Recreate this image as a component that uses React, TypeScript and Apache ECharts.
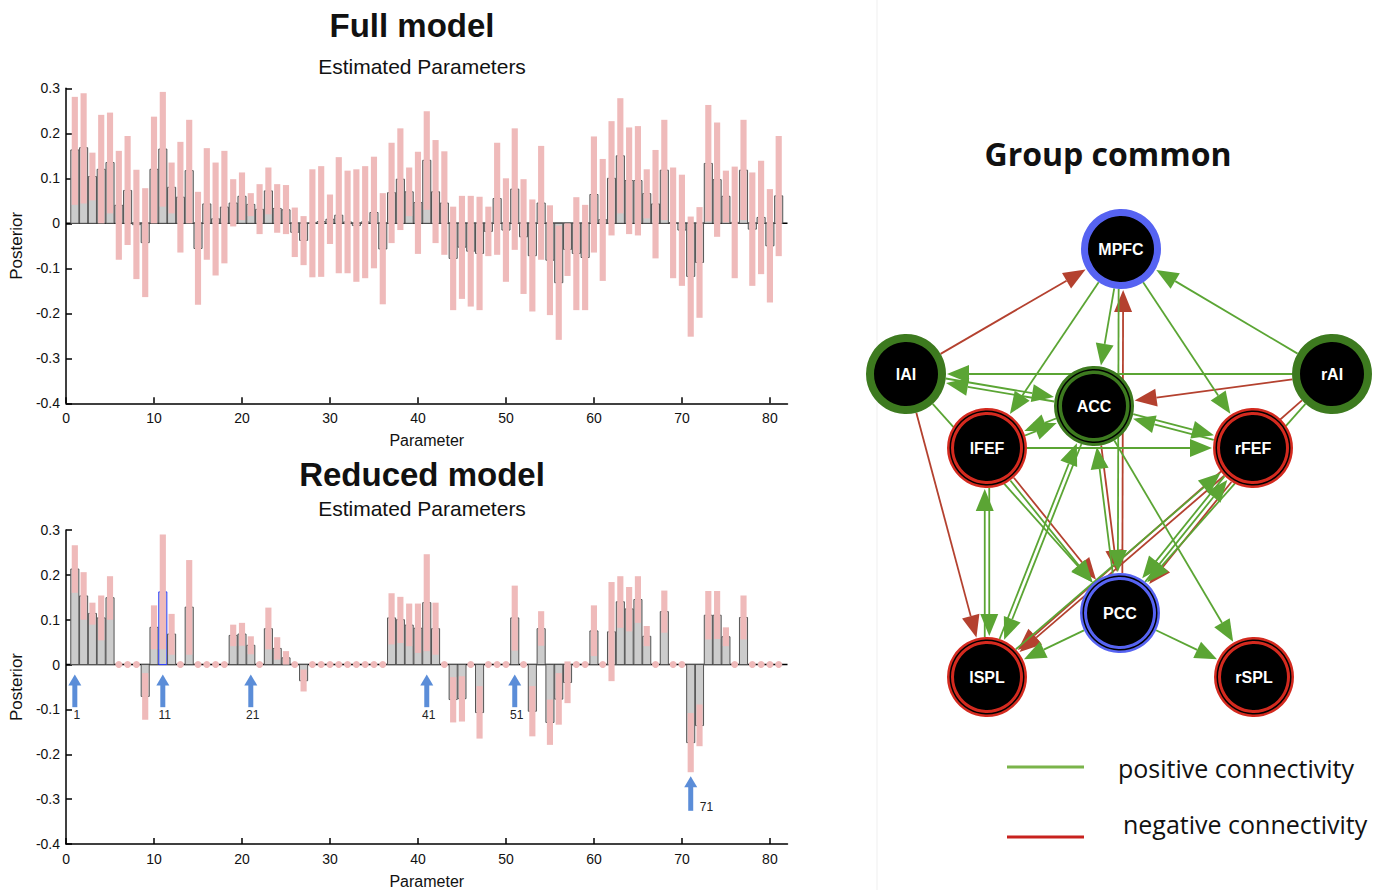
import React, { useEffect, useRef } from 'react';
import * as echarts from 'echarts';

// ---------------- DATA ----------------
const paramIndex: number[] = Array.from({ length: 81 }, (_, k) => k + 1);
const xTickValues = [0, 10, 20, 30, 40, 50, 60, 70, 80];

const fullMean = [0.163,0.168,0.104,0.12,0.135,0.04,0.073,-0.003,-0.043,0.12,
  0.165,0.08,0.058,0.117,-0.056,0.043,0.01,0.036,0.045,0.06,
  0.042,0.031,0.072,0.033,0.03,-0.02,-0.038,0.0,0.004,0.009,
  0.018,0.003,-0.005,0.003,0.024,-0.057,0.068,0.098,0.07,0.046,
  0.14,0.07,0.045,-0.078,-0.053,-0.062,-0.067,-0.018,0.055,-0.015,
  0.076,-0.03,-0.072,0.045,-0.082,-0.132,-0.058,-0.067,-0.076,0.064,
  0.008,0.1,0.15,0.095,0.095,0.066,0.043,0.118,0.001,-0.015,
  -0.118,-0.087,0.133,0.097,0.06,0.002,0.118,-0.013,0.013,-0.05,
  0.061];
const fullLower = [0.041,0.044,0.051,0.0,0.022,-0.081,-0.048,-0.124,-0.164,0.0,
  0.037,0.022,-0.065,0.0,-0.181,-0.081,-0.116,-0.089,-0.007,0.007,
  0.016,-0.024,0.02,-0.021,-0.024,-0.075,-0.093,-0.12,-0.119,-0.046,
  -0.111,-0.111,-0.13,-0.122,-0.1,-0.18,-0.044,-0.015,0.016,-0.068,
  0.03,-0.044,-0.07,-0.193,-0.168,-0.185,-0.193,-0.073,-0.07,-0.13,
  -0.059,-0.157,-0.196,-0.081,-0.204,-0.259,-0.117,-0.193,-0.193,-0.065,
  -0.128,-0.027,0.022,-0.024,-0.027,0.011,-0.078,0.007,-0.122,-0.139,
  -0.252,-0.21,0.004,-0.03,0.002,-0.122,0.007,-0.139,-0.113,-0.176,
  -0.073];
const fullUpper = [0.281,0.289,0.157,0.241,0.246,0.161,0.194,0.119,0.078,0.237,
  0.292,0.135,0.181,0.23,0.07,0.167,0.135,0.161,0.098,0.113,
  0.067,0.087,0.124,0.087,0.085,0.035,0.016,0.12,0.127,0.064,
  0.147,0.117,0.12,0.127,0.148,0.067,0.179,0.211,0.124,0.159,
  0.249,0.185,0.16,0.037,0.061,0.061,0.059,0.037,0.179,0.1,
  0.211,0.098,0.053,0.172,0.04,-0.005,0.0,0.058,0.041,0.193,
  0.143,0.227,0.278,0.213,0.216,0.12,0.163,0.23,0.124,0.108,
  0.015,0.036,0.263,0.224,0.117,0.126,0.23,0.113,0.139,0.076,
  0.194];

const reducedMean = [0.213,0.153,0.114,0.104,0.149,0,0,0,-0.071,0.083,
  0.162,0.068,0,0.128,0,0,0,0,0.065,0.068,
  0.043,0,0.08,0.036,0.015,0,-0.036,0,0,0,
  0,0,0,0,0,0,0.104,0.1,0.088,0.081,
  0.138,0.08,0,-0.078,-0.076,0,-0.107,0,0,0,
  0.104,0,-0.104,0.08,-0.129,-0.077,-0.04,0,0,0.075,
  0,0.073,0.14,0.124,0.145,0.063,0,0.118,0,0,
  -0.174,-0.136,0.11,0.11,0.062,0,0.105,0,0,0,
  0];
const reducedLower = [0.16,0.1,0.089,0.054,0.1,0,0,0,-0.123,0.034,
  0.034,0.022,0,0.022,0,0,0,0,0.041,0.042,
  0.023,0,0.034,0.011,0,0,-0.06,0,0,0,
  0,0,0,0,0,0,0.045,0.048,0.041,0.026,
  0.03,0.022,0,-0.129,-0.127,0,-0.165,0,0,0,
  0.031,0,-0.16,0.042,-0.179,-0.134,-0.086,0,0,0.019,
  0,-0.037,0.082,0.074,0.093,0.041,0,0.071,0,0,
  -0.24,-0.182,0.056,0.057,0.041,0,0.056,0,0,0,
  0];
const reducedUpper = [0.266,0.206,0.138,0.154,0.197,0,0,0,-0.019,0.132,
  0.29,0.113,0,0.233,0,0,0,0,0.089,0.093,
  0.063,0,0.127,0.061,0.03,0,-0.011,0,0,0,
  0,0,0,0,0,0,0.159,0.151,0.136,0.136,
  0.246,0.138,0,-0.028,-0.026,0,-0.048,0,0,0,
  0.176,0,-0.048,0.119,-0.078,-0.019,0.007,0,0,0.132,
  0,0.184,0.197,0.173,0.197,0.086,0,0.165,0,0,
  -0.108,-0.089,0.164,0.164,0.083,0,0.154,0,0,0,
  0];
const reducedPruned = [6,7,8,13,15,16,17,18,22,26,28,29,30,31,32,33,34,35,36,
  43,46,48,49,50,52,58,59,61,67,69,70,76,78,79,80,81];
const highlightParam = 11;

const arrowParams = [1, 11, 21, 41, 51, 71];
const arrowLabels = ['1', '11', '21', '41', '51', '71'];

const nodeNames = ['MPFC', 'lAI', 'rAI', 'ACC', 'lFEF', 'rFEF', 'PCC', 'lSPL', 'rSPL'];
// connections: [from, to, sign]  (+1 positive, -1 negative)
const connections: [string, string, number][] = [
  ['lAI', 'MPFC', -1],
  ['lAI', 'lSPL', -1],
  ['PCC', 'MPFC', -1],
  ['ACC', 'PCC', -1],
  ['rAI', 'ACC', -1],
  ['rAI', 'lSPL', -1],
  ['rFEF', 'PCC', -1],
  ['lFEF', 'PCC', -1],
  ['rFEF', 'lSPL', -1],
  ['MPFC', 'ACC', 1],
  ['MPFC', 'PCC', 1],
  ['rAI', 'MPFC', 1],
  ['MPFC', 'rFEF', 1],
  ['MPFC', 'lFEF', 1],
  ['rAI', 'lAI', 1],
  ['lAI', 'ACC', 1],
  ['ACC', 'lAI', 1],
  ['lAI', 'PCC', 1],
  ['lFEF', 'lSPL', 1],
  ['lSPL', 'lFEF', 1],
  ['ACC', 'lSPL', 1],
  ['lSPL', 'ACC', 1],
  ['PCC', 'lSPL', 1],
  ['PCC', 'rFEF', 1],
  ['rFEF', 'PCC', 1],
  ['lSPL', 'rFEF', 1],
  ['ACC', 'rFEF', 1],
  ['rFEF', 'ACC', 1],
  ['lFEF', 'rFEF', 1],
  ['lFEF', 'ACC', 1],
  ['ACC', 'lFEF', 1],
  ['ACC', 'rSPL', 1],
  ['PCC', 'rSPL', 1],
  ['PCC', 'ACC', 1],
  ['lFEF', 'PCC', 1],
  ['rAI', 'PCC', 1],
];

// ---------------- LAYOUT / STYLE ----------------
const nodeLayout: [number, number][] = [
  [1121, 249], [906, 374], [1332, 374], [1094, 406], [987, 448],
  [1253, 448], [1120, 613], [987, 677], [1254, 677],
];
const nodeRadius = [40, 40, 40, 40, 40, 40, 40, 40, 40];
const BLUE = '#5663f2';
const GREEN_RING = '#3d7a1f';
const RED_RING = '#d42a1f';
const nodeRing = [BLUE, GREEN_RING, GREEN_RING, GREEN_RING, RED_RING, RED_RING, BLUE, RED_RING, RED_RING];
const nodeRingWidth = [7, 8, 8, 8, 7, 7, 7, 7, 7];
const nodeDouble = [false, false, false, true, true, true, true, true, true];

const EDGE_GREEN = '#5ba534';
const EDGE_RED = '#b4412f';
const PINK = '#efbaba';
const GRAY = '#cccccc';
const DARK = '#555555';
const ARROW_BLUE = '#5b8dd8';
const AXIS_FONT = 'Liberation Sans, Arial, sans-serif';

const arrowTip = [-0.022, -0.022, -0.022, -0.022, -0.022, -0.249];
const arrowTail = [-0.095, -0.095, -0.095, -0.095, -0.095, -0.326];

// ---------------- BUILD ----------------
const prunedSet = new Set(reducedPruned);
const fullBarData = paramIndex.map((p, k) => [p, fullMean[k], fullLower[k], fullUpper[k]]);
const reducedBarData = paramIndex
  .map((p, k) => [p, reducedMean[k], reducedLower[k], reducedUpper[k]])
  .filter((d) => !prunedSet.has(d[0]));
const prunedDots = reducedPruned.map((p) => [p, 0]);
const arrowData = arrowParams.map((p, k) => [p, arrowTip[k], arrowTail[k], k]);

const nodeIdx: Record<string, number> = {};
nodeNames.forEach((n, k) => (nodeIdx[n] = k));
const pairCount: Record<string, number> = {};
const edgeData = connections.map(([f, t, s]) => {
  const a = nodeIdx[f], b = nodeIdx[t];
  const key = Math.min(a, b) + '-' + Math.max(a, b);
  const k = pairCount[key] || 0;
  pairCount[key] = k + 1;
  return [a, b, s, k, key];
});
const edgeSeriesData = edgeData.map((e) => {
  const n = pairCount[e[4] as string];
  return [e[0], e[1], e[2], (e[3] as number) - (n - 1) / 2];
});

function barRenderer(highlight: number | null) {
  return (params: any, api: any) => {
    const i = api.value(0), m = api.value(1), lo = api.value(2), hi = api.value(3);
    const unit = api.size([1, 0])[0];
    const p0 = api.coord([i, 0]);
    const pm = api.coord([i, m]);
    const pl = api.coord([i, lo]);
    const ph = api.coord([i, hi]);
    const gw = unit * 0.92;
    const pw = unit * 0.7;
    return {
      type: 'group',
      children: [
        {
          type: 'rect',
          shape: { x: p0[0] - gw / 2, y: Math.min(p0[1], pm[1]), width: gw, height: Math.abs(pm[1] - p0[1]) },
          style: { fill: GRAY, stroke: i === highlight ? '#2b3dff' : DARK, lineWidth: 1 },
        },
        {
          type: 'rect',
          shape: { x: p0[0] - pw / 2, y: ph[1], width: pw, height: Math.max(0, pl[1] - ph[1]) },
          style: { fill: PINK },
        },
      ],
    };
  };
}

function arrowRenderer(params: any, api: any) {
  const x = api.value(0), tip = api.value(1), tail = api.value(2), k = api.value(3);
  const pt = api.coord([x, tip]);
  const pb = api.coord([x, tail]);
  const head = 11;
  const isLast = k === arrowParams.length - 1;
  return {
    type: 'group',
    children: [
      { type: 'rect', shape: { x: pt[0] - 2.5, y: pt[1] + head - 1, width: 5, height: pb[1] - pt[1] - head + 1 }, style: { fill: ARROW_BLUE } },
      { type: 'polygon', shape: { points: [[pt[0], pt[1]], [pt[0] - 6.5, pt[1] + head], [pt[0] + 6.5, pt[1] + head]] }, style: { fill: ARROW_BLUE } },
      {
        type: 'text',
        x: isLast ? pt[0] + 9 : pt[0] + 2,
        y: isLast ? pb[1] - 4 : pb[1] + 8,
        style: {
          text: arrowLabels[k], fill: '#222', fontSize: 12, fontFamily: AXIS_FONT,
          align: isLast ? 'left' : 'center', verticalAlign: 'middle',
          textAlign: isLast ? 'left' : 'center', textVerticalAlign: 'middle',
        },
      },
    ],
  };
}

function edgeRenderer(params: any, api: any) {
  const f = api.value(0), t = api.value(1), s = api.value(2), lane = api.value(3);
  const pa = api.coord(nodeLayout[f]);
  const pb = api.coord(nodeLayout[t]);
  const lo = Math.min(f, t), hi = Math.max(f, t);
  const pl = api.coord(nodeLayout[lo]);
  const ph = api.coord(nodeLayout[hi]);
  const cdx = ph[0] - pl[0], cdy = ph[1] - pl[1];
  const cl = Math.hypot(cdx, cdy);
  const nx = -cdy / cl, ny = cdx / cl;
  const ox = nx * lane * 4.5, oy = ny * lane * 4.5;
  const dx = pb[0] - pa[0], dy = pb[1] - pa[1];
  const L = Math.hypot(dx, dy);
  const ux = dx / L, uy = dy / L;
  const sx = pa[0] + ux * nodeRadius[f] + ox, sy = pa[1] + uy * nodeRadius[f] + oy;
  const tx = pb[0] - ux * (nodeRadius[t] + 1) + ox, ty = pb[1] - uy * (nodeRadius[t] + 1) + oy;
  const AL = 22, AW = 9;
  const bx = tx - ux * AL, by = ty - uy * AL;
  const color = s > 0 ? EDGE_GREEN : EDGE_RED;
  return {
    type: 'group',
    children: [
      { type: 'line', shape: { x1: sx, y1: sy, x2: bx, y2: by }, style: { stroke: color, lineWidth: 1.8 } },
      {
        type: 'polygon',
        shape: { points: [[tx, ty], [bx - uy * AW, by + ux * AW], [bx + uy * AW, by - ux * AW]] },
        style: { fill: color },
      },
    ],
  };
}

function valueAxisX(gridIndex: number) {
  return {
    type: 'value', gridIndex, min: 0, max: 82,
    axisLine: { show: true, onZero: false, lineStyle: { color: '#000', width: 1.5 } },
    axisTick: { show: true, inside: true, length: 6, customValues: xTickValues, lineStyle: { color: '#000', width: 1.5 } },
    axisLabel: { customValues: xTickValues, color: '#111', fontSize: 14, fontFamily: AXIS_FONT, margin: 8 },
    splitLine: { show: false },
    name: 'Parameter', nameLocation: 'middle', nameGap: 29,
    nameTextStyle: { fontSize: 16, color: '#111', fontFamily: AXIS_FONT },
  };
}
function valueAxisY(gridIndex: number) {
  return {
    type: 'value', gridIndex, min: -0.4, max: 0.3, interval: 0.1,
    axisLine: { show: true, onZero: false, lineStyle: { color: '#000', width: 1.5 } },
    axisTick: { show: true, inside: true, length: 6, lineStyle: { color: '#000', width: 1.5 } },
    axisLabel: { color: '#111', fontSize: 14, fontFamily: AXIS_FONT, margin: 6 },
    splitLine: { show: false },
    name: 'Posterior', nameLocation: 'middle', nameGap: 36, nameRotate: 90,
    nameTextStyle: { fontSize: 17, color: '#111', fontFamily: AXIS_FONT },
  };
}

function txt(text: string, x: number, y: number, size: number, weight: string, family: string, align = 'center') {
  return {
    type: 'text', x, y, silent: true,
    style: {
      text, fill: '#111', fontSize: size, fontWeight: weight, fontFamily: family,
      align, verticalAlign: 'middle', textAlign: align, textVerticalAlign: 'middle',
    },
  };
}

const nodeData = nodeNames.map((n, k) => ({
  name: n,
  value: nodeLayout[k],
  symbolSize: 2 * nodeRadius[k] - nodeRingWidth[k],
  itemStyle: { color: '#000', borderColor: nodeRing[k], borderWidth: nodeRingWidth[k] },
}));
const innerRingData = nodeNames
  .map((n, k) => ({
    name: n,
    value: nodeLayout[k],
    symbolSize: 2 * nodeRadius[k] - nodeRingWidth[k] + 0.5,
    itemStyle: { color: 'rgba(0,0,0,0)', borderColor: '#000', borderWidth: 1.5 },
  }))
  .filter((_, k) => nodeDouble[k]);

const option: any = {
  animation: false,
  backgroundColor: '#fff',
  grid: [
    { left: 63.5, top: 88.3, width: 724, height: 315 },
    { left: 63.5, top: 530, width: 724, height: 314 },
    { left: 0, top: 0, width: 1388, height: 890 },
  ],
  xAxis: [
    valueAxisX(0),
    valueAxisX(1),
    { type: 'value', gridIndex: 2, min: 0, max: 1388, show: false },
  ],
  yAxis: [
    valueAxisY(0),
    valueAxisY(1),
    { type: 'value', gridIndex: 2, min: 0, max: 890, inverse: true, show: false },
  ],
  graphic: [
    { type: 'line', shape: { x1: 877, y1: 0, x2: 877, y2: 890 }, style: { stroke: '#efefef', lineWidth: 1 }, silent: true },
    txt('Full model', 412, 25, 33, 'bold', AXIS_FONT),
    txt('Estimated Parameters', 422, 66, 21, 'normal', AXIS_FONT),
    txt('Reduced model', 422, 474, 33, 'bold', AXIS_FONT),
    txt('Estimated Parameters', 422, 508, 21, 'normal', AXIS_FONT),
    txt('Group common', 1108, 153, 32, 'bold', 'Open Sans, sans-serif'),
    { type: 'line', shape: { x1: 1007, y1: 767, x2: 1084, y2: 767 }, style: { stroke: '#7ab44a', lineWidth: 3 }, silent: true },
    { type: 'line', shape: { x1: 1007, y1: 837, x2: 1084, y2: 837 }, style: { stroke: '#c8221e', lineWidth: 3 }, silent: true },
    txt('positive connectivity', 1118, 768, 25, 'normal', 'Open Sans, sans-serif', 'left'),
    txt('negative connectivity', 1123, 824, 25, 'normal', 'Open Sans, sans-serif', 'left'),
  ],
  series: [
    {
      type: 'line', xAxisIndex: 0, yAxisIndex: 0, data: [[0, 0], [82, 0]], symbol: 'none', silent: true, z: 1,
      lineStyle: { color: '#000', width: 1.5 },
    },
    {
      type: 'line', xAxisIndex: 1, yAxisIndex: 1, data: [[0, 0], [82, 0]], symbol: 'none', silent: true, z: 1,
      lineStyle: { color: '#000', width: 1.5 },
    },
    {
      type: 'custom', xAxisIndex: 0, yAxisIndex: 0, data: fullBarData, renderItem: barRenderer(null), z: 2, silent: true,
    },
    {
      type: 'custom', xAxisIndex: 1, yAxisIndex: 1, data: reducedBarData, renderItem: barRenderer(highlightParam), z: 2, silent: true,
    },
    {
      type: 'scatter', xAxisIndex: 1, yAxisIndex: 1, data: prunedDots, symbolSize: 7, z: 3, silent: true,
      itemStyle: { color: PINK, opacity: 1 },
    },
    {
      type: 'custom', xAxisIndex: 1, yAxisIndex: 1, data: arrowData, renderItem: arrowRenderer, z: 4, silent: true,
    },
    {
      type: 'custom', xAxisIndex: 2, yAxisIndex: 2, data: edgeSeriesData, renderItem: edgeRenderer, z: 2, silent: true,
    },
    {
      type: 'scatter', xAxisIndex: 2, yAxisIndex: 2, data: nodeData, z: 3, silent: true,
      itemStyle: { opacity: 1 },
      label: {
        show: true, position: 'inside', formatter: '{b}', color: '#fff', fontWeight: 'bold',
        fontSize: 16, fontFamily: AXIS_FONT,
      },
    },
    {
      type: 'scatter', xAxisIndex: 2, yAxisIndex: 2, data: innerRingData, z: 4, silent: true,
      itemStyle: { opacity: 1 },
    },
  ],
};

export default function App() {
  const ref = useRef<HTMLDivElement>(null);
  useEffect(() => {
    document.body.style.margin = '0';
    const chart = echarts.init(ref.current!, null, { renderer: 'svg' });
    chart.setOption(option);
    return () => chart.dispose();
  }, []);
  return <div ref={ref} style={{ width: 1388, height: 890, background: '#fff' }} />;
}
